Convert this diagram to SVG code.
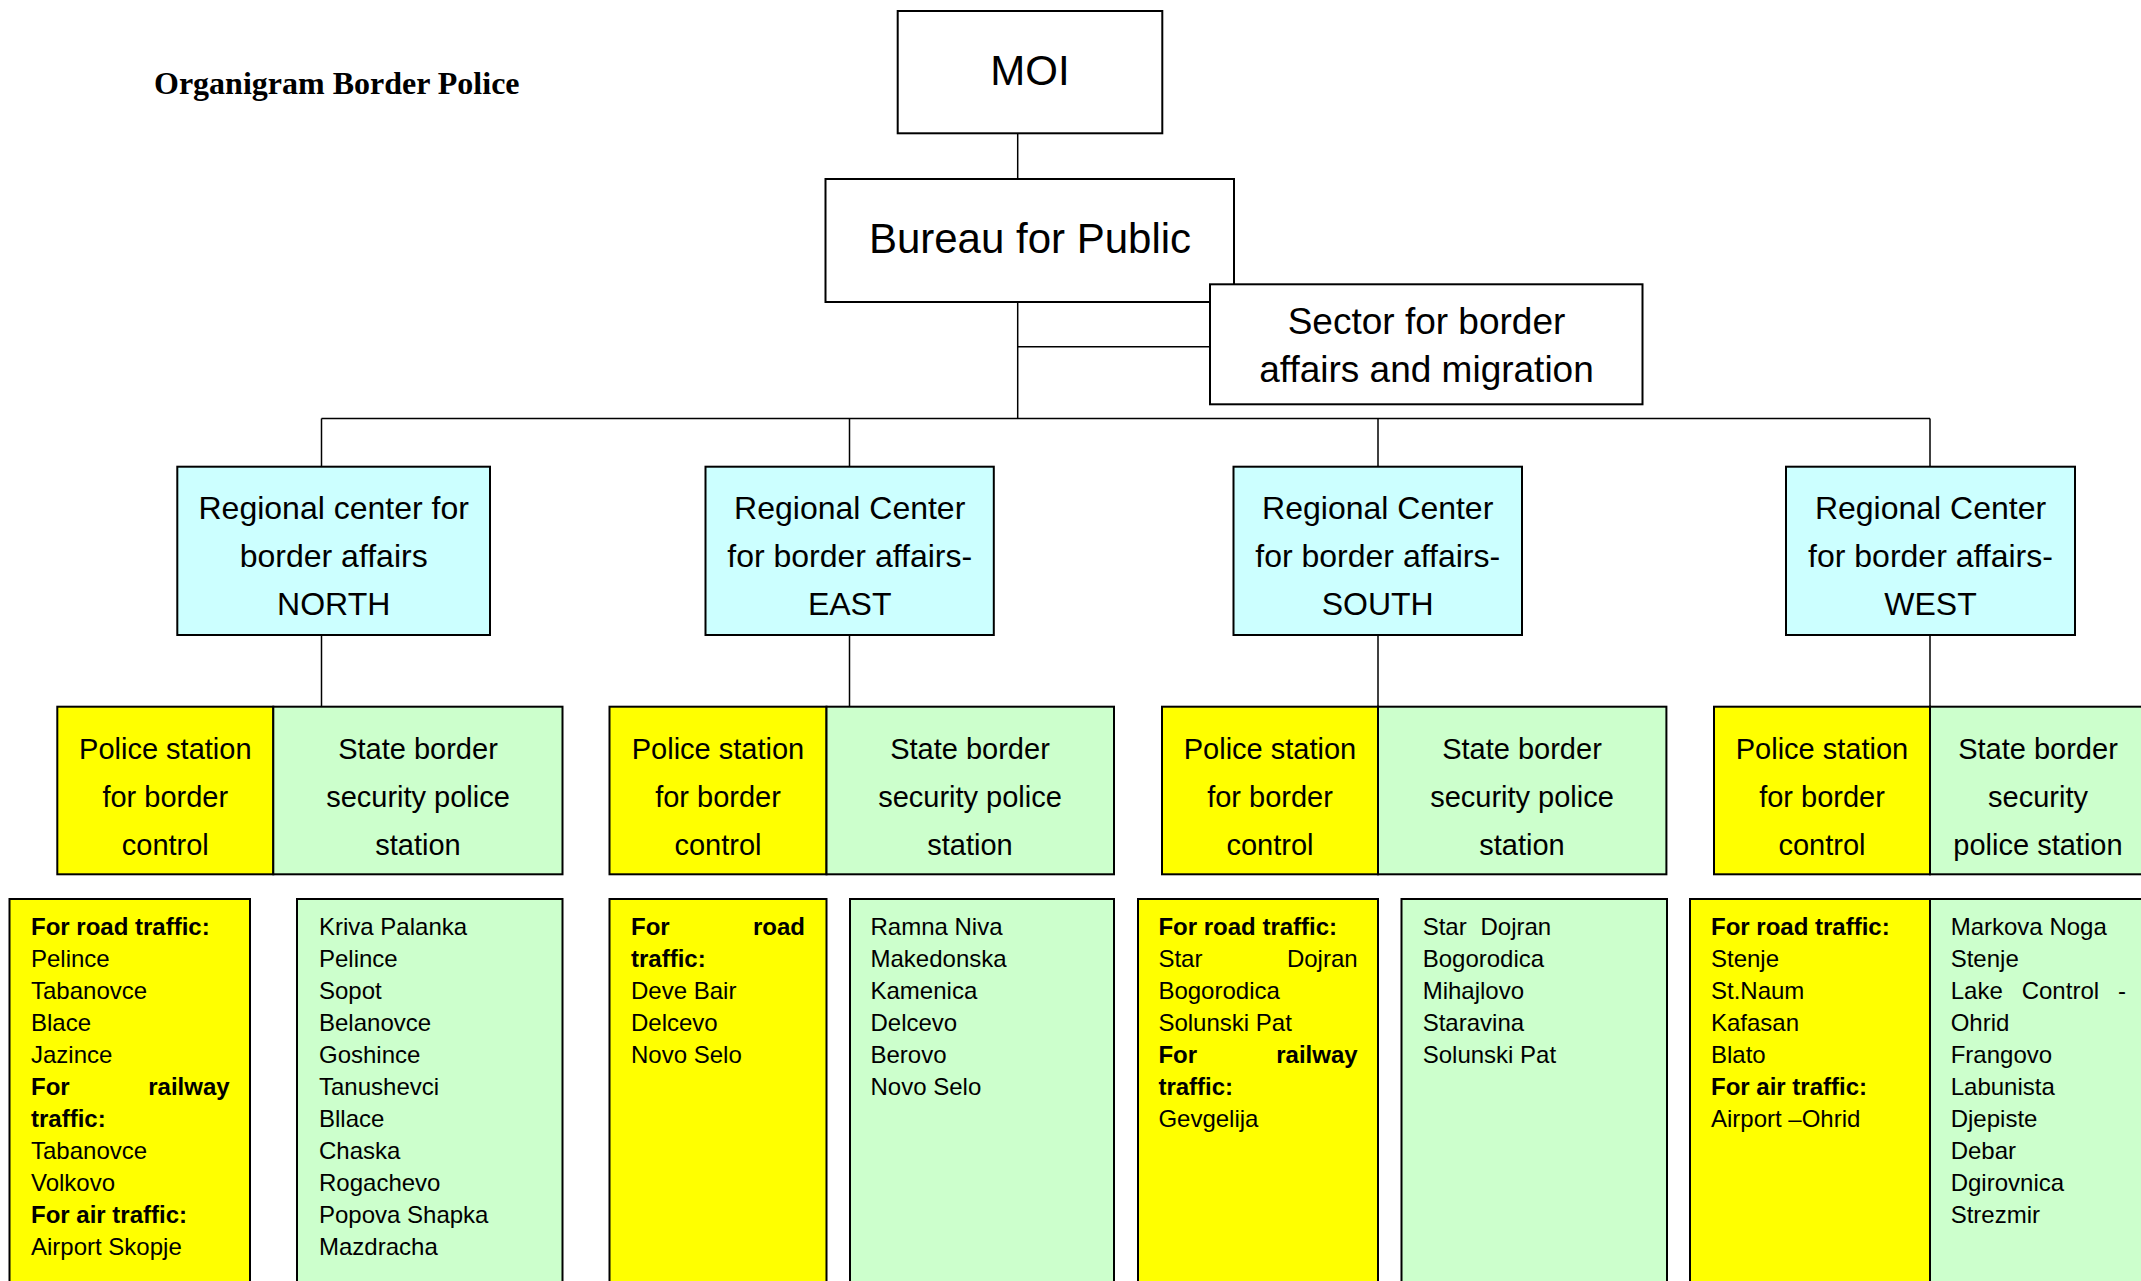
<svg xmlns="http://www.w3.org/2000/svg" width="2141" height="1281" viewBox="0 0 2141 1281">
<style>
  text { font-family: "Liberation Sans", Arial, sans-serif; fill: #000; }
  .box { stroke: #000; stroke-width: 2; }
  .white { fill: #fff; }
  .cyan { fill: #ccffff; }
  .yellow { fill: #ffff00; }
  .green { fill: #ccffcc; }
  .conn { stroke: #000; stroke-width: 1.5; fill: none; }
  .big { font-size: 42px; text-anchor: middle; }
  .sec { font-size: 37px; text-anchor: middle; }
  .reg { font-size: 32px; text-anchor: middle; }
  .st { font-size: 29px; text-anchor: middle; }
  .li { font-size: 24px; }
  .b { font-weight: bold; }
  .e { text-anchor: end; }
  .title { font-family: "Liberation Serif", "Times New Roman", serif; font-weight: bold; font-size: 32px; }
</style>
<rect width="2141" height="1281" fill="#fff"/>
<text class="title" x="154" y="94">Organigram Border Police</text>

<g id="connectors">
  <line class="conn" x1="1017.7" y1="133" x2="1017.7" y2="179"/>
  <line class="conn" x1="1017.7" y1="302" x2="1017.7" y2="418.5"/>
  <line class="conn" x1="1017.7" y1="346.7" x2="1210" y2="346.7"/>
  <line class="conn" x1="321.5" y1="418.5" x2="1930" y2="418.5"/>
  <line class="conn" x1="321.5" y1="418.5" x2="321.5" y2="467"/>
  <line class="conn" x1="849.5" y1="418.5" x2="849.5" y2="467"/>
  <line class="conn" x1="1378" y1="418.5" x2="1378" y2="467"/>
  <line class="conn" x1="1930" y1="418.5" x2="1930" y2="467"/>
  <line class="conn" x1="321.5" y1="635" x2="321.5" y2="707"/>
  <line class="conn" x1="849.5" y1="635" x2="849.5" y2="707"/>
  <line class="conn" x1="1378" y1="635" x2="1378" y2="707"/>
  <line class="conn" x1="1930" y1="635" x2="1930" y2="707"/>
</g>

<g id="moi">
  <rect class="box white" x="897.7" y="11" width="264.6" height="122.3"/>
  <text class="big" x="1030" y="85">MOI</text>
</g>

<g id="bureau">
  <rect class="box white" x="825.5" y="179" width="408.5" height="123"/>
  <text class="big" x="1030" y="253">Bureau for Public</text>
</g>

<g id="sector">
  <rect class="box white" x="1210" y="284.3" width="432.5" height="120"/>
  <text class="sec" x="1426.5" y="334">Sector for border</text>
  <text class="sec" x="1426.5" y="381.7">affairs and migration</text>
</g>

<g id="rc-north">
  <rect class="box cyan" x="177.3" y="466.7" width="312.7" height="168.3"/>
  <text class="reg" x="333.7" y="519">Regional center for</text>
  <text class="reg" x="333.7" y="567">border affairs</text>
  <text class="reg" x="333.7" y="615">NORTH</text>
</g>
<g id="rc-east">
  <rect class="box cyan" x="705.5" y="466.7" width="288.3" height="168.3"/>
  <text class="reg" x="849.7" y="519">Regional Center</text>
  <text class="reg" x="849.7" y="567">for border affairs-</text>
  <text class="reg" x="849.7" y="615">EAST</text>
</g>
<g id="rc-south">
  <rect class="box cyan" x="1233.5" y="466.7" width="288.5" height="168.3"/>
  <text class="reg" x="1377.7" y="519">Regional Center</text>
  <text class="reg" x="1377.7" y="567">for border affairs-</text>
  <text class="reg" x="1377.7" y="615">SOUTH</text>
</g>
<g id="rc-west">
  <rect class="box cyan" x="1786" y="466.7" width="289" height="168.3"/>
  <text class="reg" x="1930.5" y="519">Regional Center</text>
  <text class="reg" x="1930.5" y="567">for border affairs-</text>
  <text class="reg" x="1930.5" y="615">WEST</text>
</g>

<g id="ps-north">
  <rect class="box yellow" x="57.3" y="706.7" width="216" height="167.6"/>
  <text class="st" x="165.3" y="759">Police station</text>
  <text class="st" x="165.3" y="807">for border</text>
  <text class="st" x="165.3" y="855">control</text>
</g>
<g id="sb-north">
  <rect class="box green" x="273.3" y="706.7" width="289.2" height="167.6"/>
  <text class="st" x="418" y="759">State border</text>
  <text class="st" x="418" y="807">security police</text>
  <text class="st" x="418" y="855">station</text>
</g>
<g id="ps-east">
  <rect class="box yellow" x="609.5" y="706.7" width="217" height="167.6"/>
  <text class="st" x="718" y="759">Police station</text>
  <text class="st" x="718" y="807">for border</text>
  <text class="st" x="718" y="855">control</text>
</g>
<g id="sb-east">
  <rect class="box green" x="826.5" y="706.7" width="287.5" height="167.6"/>
  <text class="st" x="970" y="759">State border</text>
  <text class="st" x="970" y="807">security police</text>
  <text class="st" x="970" y="855">station</text>
</g>
<g id="ps-south">
  <rect class="box yellow" x="1162" y="706.7" width="216" height="167.6"/>
  <text class="st" x="1270" y="759">Police station</text>
  <text class="st" x="1270" y="807">for border</text>
  <text class="st" x="1270" y="855">control</text>
</g>
<g id="sb-south">
  <rect class="box green" x="1378" y="706.7" width="288.4" height="167.6"/>
  <text class="st" x="1522" y="759">State border</text>
  <text class="st" x="1522" y="807">security police</text>
  <text class="st" x="1522" y="855">station</text>
</g>
<g id="ps-west">
  <rect class="box yellow" x="1714" y="706.7" width="216" height="167.6"/>
  <text class="st" x="1822" y="759">Police station</text>
  <text class="st" x="1822" y="807">for border</text>
  <text class="st" x="1822" y="855">control</text>
</g>
<g id="sb-west">
  <rect class="box green" x="1930" y="706.7" width="216" height="167.6"/>
  <text class="st" x="2038" y="759">State border</text>
  <text class="st" x="2038" y="807">security</text>
  <text class="st" x="2038" y="855">police station</text>
</g>

<g id="list-north-ps">
  <rect class="box yellow" x="9.5" y="899" width="240.5" height="400"/>
  <text class="li b" x="31" y="935">For road traffic:</text>
  <text class="li" x="31" y="967">Pelince</text>
  <text class="li" x="31" y="999">Tabanovce</text>
  <text class="li" x="31" y="1031">Blace</text>
  <text class="li" x="31" y="1063">Jazince</text>
  <text class="li b" x="31" y="1095">For</text>
  <text class="li b e" x="229.6" y="1095">railway</text>
  <text class="li b" x="31" y="1127">traffic:</text>
  <text class="li" x="31" y="1159">Tabanovce</text>
  <text class="li" x="31" y="1191">Volkovo</text>
  <text class="li b" x="31" y="1223">For air traffic:</text>
  <text class="li" x="31" y="1255">Airport Skopje</text>
</g>
<g id="list-north-sb">
  <rect class="box green" x="297" y="899" width="265.5" height="400"/>
  <text class="li" x="319" y="935">Kriva Palanka</text>
  <text class="li" x="319" y="967">Pelince</text>
  <text class="li" x="319" y="999">Sopot</text>
  <text class="li" x="319" y="1031">Belanovce</text>
  <text class="li" x="319" y="1063">Goshince</text>
  <text class="li" x="319" y="1095">Tanushevci</text>
  <text class="li" x="319" y="1127">Bllace</text>
  <text class="li" x="319" y="1159">Chaska</text>
  <text class="li" x="319" y="1191">Rogachevo</text>
  <text class="li" x="319" y="1223">Popova Shapka</text>
  <text class="li" x="319" y="1255">Mazdracha</text>
</g>
<g id="list-east-ps">
  <rect class="box yellow" x="609.5" y="899" width="217" height="400"/>
  <text class="li b" x="631" y="935">For</text>
  <text class="li b e" x="805" y="935">road</text>
  <text class="li b" x="631" y="967">traffic:</text>
  <text class="li" x="631" y="999">Deve Bair</text>
  <text class="li" x="631" y="1031">Delcevo</text>
  <text class="li" x="631" y="1063">Novo Selo</text>
</g>
<g id="list-east-sb">
  <rect class="box green" x="850" y="899" width="264" height="400"/>
  <text class="li" x="870.5" y="935">Ramna Niva</text>
  <text class="li" x="870.5" y="967">Makedonska</text>
  <text class="li" x="870.5" y="999">Kamenica</text>
  <text class="li" x="870.5" y="1031">Delcevo</text>
  <text class="li" x="870.5" y="1063">Berovo</text>
  <text class="li" x="870.5" y="1095">Novo Selo</text>
</g>
<g id="list-south-ps">
  <rect class="box yellow" x="1138" y="899" width="240" height="400"/>
  <text class="li b" x="1158.4" y="935">For road traffic:</text>
  <text class="li" x="1158.4" y="967">Star</text>
  <text class="li e" x="1357.6" y="967">Dojran</text>
  <text class="li" x="1158.4" y="999">Bogorodica</text>
  <text class="li" x="1158.4" y="1031">Solunski Pat</text>
  <text class="li b" x="1158.4" y="1063">For</text>
  <text class="li b e" x="1357.6" y="1063">railway</text>
  <text class="li b" x="1158.4" y="1095">traffic:</text>
  <text class="li" x="1158.4" y="1127">Gevgelija</text>
</g>
<g id="list-south-sb">
  <rect class="box green" x="1401.5" y="899" width="265.5" height="400"/>
  <text class="li" x="1422.7" y="935">Star</text>
  <text class="li" x="1480.5" y="935">Dojran</text>
  <text class="li" x="1422.7" y="967">Bogorodica</text>
  <text class="li" x="1422.7" y="999">Mihajlovo</text>
  <text class="li" x="1422.7" y="1031">Staravina</text>
  <text class="li" x="1422.7" y="1063">Solunski Pat</text>
</g>
<g id="list-west-ps">
  <rect class="box yellow" x="1690" y="899" width="240" height="400"/>
  <text class="li b" x="1711" y="935">For road traffic:</text>
  <text class="li" x="1711" y="967">Stenje</text>
  <text class="li" x="1711" y="999">St.Naum</text>
  <text class="li" x="1711" y="1031">Kafasan</text>
  <text class="li" x="1711" y="1063">Blato</text>
  <text class="li b" x="1711" y="1095">For air traffic:</text>
  <text class="li" x="1711" y="1127">Airport –Ohrid</text>
</g>
<g id="list-west-sb">
  <rect class="box green" x="1930" y="899" width="216" height="400"/>
  <text class="li" x="1950.7" y="935">Markova Noga</text>
  <text class="li" x="1950.7" y="967">Stenje</text>
  <text class="li" x="1950.7" y="999">Lake</text>
  <text class="li" x="2021.7" y="999">Control</text>
  <text class="li e" x="2126" y="999">-</text>
  <text class="li" x="1950.7" y="1031">Ohrid</text>
  <text class="li" x="1950.7" y="1063">Frangovo</text>
  <text class="li" x="1950.7" y="1095">Labunista</text>
  <text class="li" x="1950.7" y="1127">Djepiste</text>
  <text class="li" x="1950.7" y="1159">Debar</text>
  <text class="li" x="1950.7" y="1191">Dgirovnica</text>
  <text class="li" x="1950.7" y="1223">Strezmir</text>
</g>
</svg>
